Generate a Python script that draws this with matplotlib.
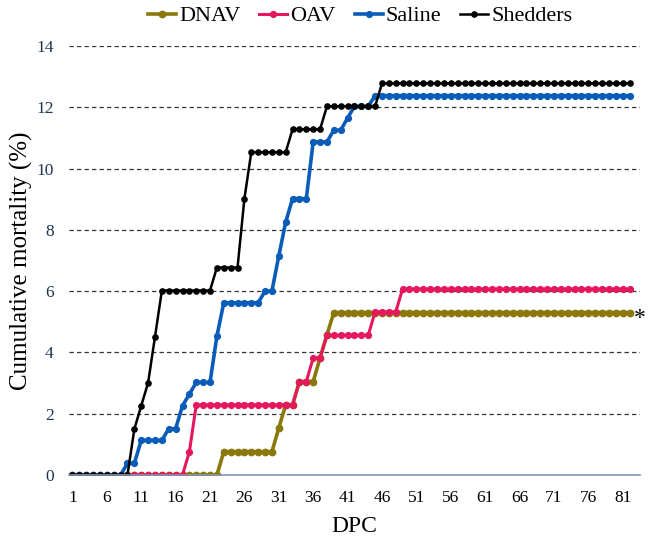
import matplotlib
matplotlib.use("Agg")
import matplotlib.pyplot as plt

days = list(range(1, 83))

dnav = [0, 0, 0, 0, 0, 0, 0, 0, 0, 0, 0, 0, 0, 0, 0, 0, 0, 0, 0, 0, 0, 0,
        0.76, 0.76, 0.76, 0.76, 0.76, 0.76, 0.76, 0.76,
        1.53, 2.29, 2.29, 3.05, 3.05, 3.05, 3.82, 4.58,
        5.30, 5.30, 5.30, 5.30, 5.30, 5.30, 5.30, 5.30, 5.30, 5.30, 5.30, 5.30,
        5.30, 5.30, 5.30, 5.30, 5.30, 5.30, 5.30, 5.30, 5.30, 5.30, 5.30, 5.30,
        5.30, 5.30, 5.30, 5.30, 5.30, 5.30, 5.30, 5.30, 5.30, 5.30, 5.30, 5.30,
        5.30, 5.30, 5.30, 5.30, 5.30, 5.30, 5.30, 5.30]

oav = [0, 0, 0, 0, 0, 0, 0, 0, 0, 0, 0, 0, 0, 0, 0, 0, 0,
       0.76,
       2.29, 2.29, 2.29, 2.29, 2.29, 2.29, 2.29, 2.29, 2.29, 2.29, 2.29, 2.29,
       2.29, 2.29, 2.29,
       3.05, 3.05, 3.82, 3.82,
       4.56, 4.56, 4.56, 4.56, 4.56, 4.56, 4.56,
       5.32, 5.32, 5.32, 5.32,
       6.07, 6.07, 6.07, 6.07, 6.07, 6.07, 6.07, 6.07, 6.07, 6.07, 6.07, 6.07,
       6.07, 6.07, 6.07, 6.07, 6.07, 6.07, 6.07, 6.07, 6.07, 6.07, 6.07, 6.07,
       6.07, 6.07, 6.07, 6.07, 6.07, 6.07, 6.07, 6.07, 6.07, 6.07]

saline = [0, 0, 0, 0, 0, 0, 0, 0,
          0.38, 0.38,
          1.13, 1.13, 1.13, 1.13,
          1.51, 1.51, 2.26, 2.64,
          3.02, 3.02, 3.02, 4.53,
          5.62, 5.62, 5.62, 5.62, 5.62, 5.62,
          6.00, 6.00, 7.15, 8.25,
          9.02, 9.02, 9.02,
          10.87, 10.87, 10.87, 11.25, 11.25, 11.65,
          12.03, 12.03, 12.03,
          12.38, 12.38, 12.38, 12.38, 12.38, 12.38, 12.38, 12.38, 12.38, 12.38,
          12.38, 12.38, 12.38, 12.38, 12.38, 12.38, 12.38, 12.38, 12.38, 12.38,
          12.38, 12.38, 12.38, 12.38, 12.38, 12.38, 12.38, 12.38, 12.38, 12.38,
          12.38, 12.38, 12.38, 12.38, 12.38, 12.38, 12.38, 12.38]

shedders = [0, 0, 0, 0, 0, 0, 0, 0, 0,
            1.50, 2.26, 3.01, 4.51,
            6.02, 6.02, 6.02, 6.02, 6.02, 6.02, 6.02, 6.02,
            6.77, 6.77, 6.77, 6.77,
            9.02,
            10.53, 10.53, 10.53, 10.53, 10.53, 10.53,
            11.28, 11.28, 11.28, 11.28, 11.28,
            12.03, 12.03, 12.03, 12.03, 12.03, 12.03, 12.03, 12.03,
            12.78, 12.78, 12.78, 12.78, 12.78, 12.78, 12.78, 12.78, 12.78, 12.78,
            12.78, 12.78, 12.78, 12.78, 12.78, 12.78, 12.78, 12.78, 12.78, 12.78,
            12.78, 12.78, 12.78, 12.78, 12.78, 12.78, 12.78, 12.78, 12.78, 12.78,
            12.78, 12.78, 12.78, 12.78, 12.78, 12.78, 12.78]

series_names = ["DNAV", "OAV", "Saline", "Shedders"]
series_values = [dnav, oav, saline, shedders]
colors = ["#8A780B", "#E5185B", "#0B5CB8", "#000000"]
linewidths = [2.6, 2.2, 2.6, 1.8]
markersizes = [5.6, 5.2, 5.2, 4.8]
x_ticks = list(range(1, 83, 5))
y_ticks = [0, 2, 4, 6, 8, 10, 12, 14]

plt.rcParams["font.family"] = ["Liberation Serif", "DejaVu Serif"]

fig = plt.figure(figsize=(6.48, 5.41), dpi=100)
ax = fig.add_axes([0.1065, 0.122, 0.881, 0.793])

for name, vals, c, lw, ms in zip(series_names, series_values, colors, linewidths, markersizes):
    ax.plot(days, vals, color=c, lw=lw, marker="o", markersize=ms,
            markeredgewidth=0, label=name, solid_joinstyle="round")

ax.set_xlim(0.5, 83.5)
ax.set_ylim(0, 14)
ax.set_xticks(x_ticks)
ax.set_yticks(y_ticks)
ax.tick_params(axis="both", length=0, labelsize=12.5)
ax.tick_params(axis="y", labelcolor="#1F3550", pad=11)
ax.tick_params(axis="x", pad=11)

for yv in y_ticks[1:]:
    ax.axhline(yv, color="#333333", lw=0.9, ls=(0, (3.5, 2.5)), zorder=0)

for s in ["top", "right", "left"]:
    ax.spines[s].set_visible(False)
ax.spines["bottom"].set_color("#8496B0")
ax.spines["bottom"].set_linewidth(1.2)

ax.set_xlabel("DPC", fontsize=17, labelpad=7)
ax.set_ylabel("Cumulative mortality (%)", fontsize=18, labelpad=2)

ax.annotate("*", xy=(days[-1], dnav[-1]), xytext=(3, -4), textcoords="offset points",
            fontsize=17, ha="left", va="center", annotation_clip=False)

fig.legend(loc="upper center", bbox_to_anchor=(0.556, 1.026), ncol=4, frameon=False,
           fontsize=16, handlelength=1.25, handletextpad=0.15, columnspacing=0.85)

fig.savefig("out.png", dpi=100)
